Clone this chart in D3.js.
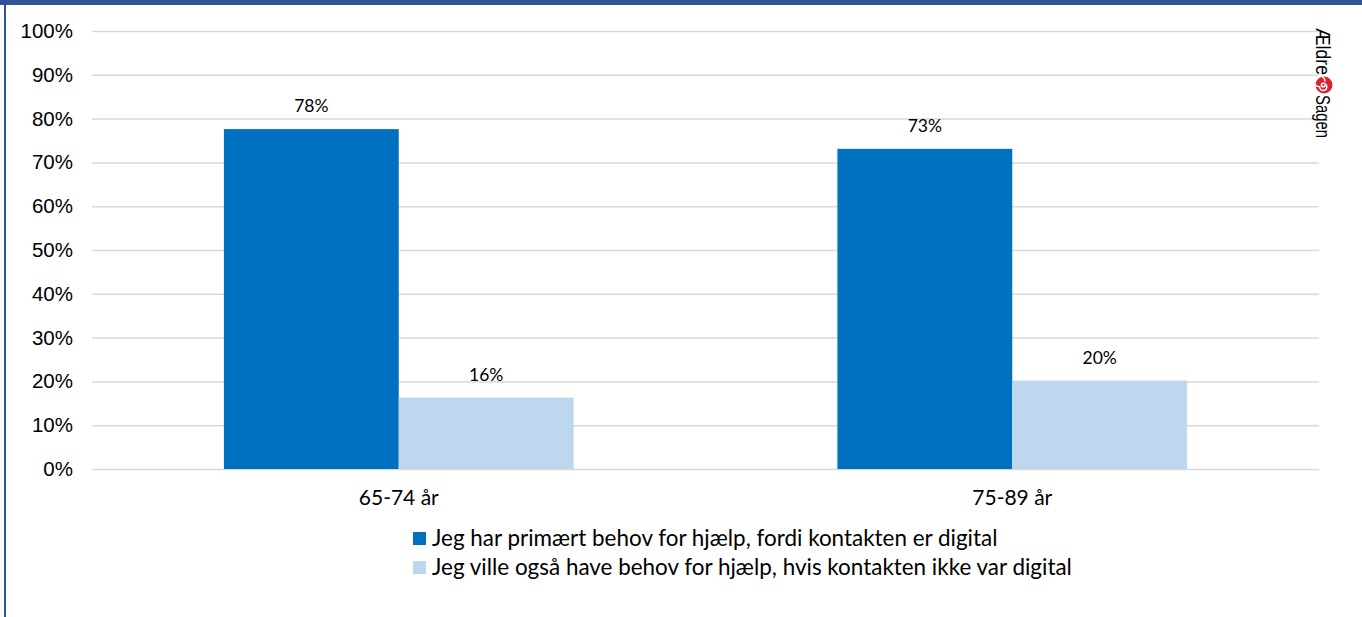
<!DOCTYPE html>
<html><head><meta charset="utf-8">
<script src="https://cdn.jsdelivr.net/npm/d3@7"></script>
<style>html,body{margin:0;padding:0;background:#fff;}svg{display:block;}</style>
</head><body>
<svg id="c" width="1362" height="617"></svg>
<script>
const categories = ["65-74 år", "75-89 år"];
const seriesNames = ["Jeg har primært behov for hjælp, fordi kontakten er digital",
                     "Jeg ville også have behov for hjælp, hvis kontakten ikke var digital"];
const seriesPrimary = [77.6, 73.1];
const seriesAlso = [16.3, 20.2];
const dataLabels = [["78%", "73%"], ["16%", "20%"]];
const tickValues = [0,10,20,30,40,50,60,70,80,90,100];
const colors = ["#0070C0", "#BDD7EE"];

(function(){
const svg = d3.select("#c");
const W = 1362, H = 617;
const mLeft = 92, mRight = 1319, mTop = 31, mBottom = 469;

// header bar & left frame
svg.append("rect").attr("x",0).attr("y",0).attr("width",W).attr("height",5).attr("fill","#2F5597");
svg.append("rect").attr("x",4).attr("y",0).attr("width",2).attr("height",H).attr("fill","#2F5597");

const y = d3.scaleLinear().domain([0,100]).range([mBottom, mTop]);
const x0 = d3.scaleBand().domain(categories).range([mLeft, mRight]).paddingInner(0.43).paddingOuter(0.215);
const x1 = d3.scaleBand().domain([0,1]).range([0, x0.bandwidth()]);

// gridlines
const yAxis = d3.axisLeft(y).tickValues(tickValues).tickFormat(d => d + "%").tickSize(-(mRight-mLeft)).tickPadding(19);
const ga = svg.append("g").attr("transform", `translate(${mLeft},0)`).call(yAxis);
ga.select(".domain").remove();
ga.selectAll(".tick line").attr("stroke","#d9d9d9").attr("stroke-width",1.5);
ga.selectAll(".tick text").attr("font-family","Liberation Sans, Arial, sans-serif").attr("font-size",20.5).attr("fill","#000");

const series = [seriesPrimary, seriesAlso];
series.forEach((vals, si) => {
  const g = svg.append("g");
  g.selectAll("rect").data(vals).join("rect")
    .attr("x",(d,i)=>x0(categories[i]) + x1(si))
    .attr("y",d=>y(d))
    .attr("width",x1.bandwidth())
    .attr("height",d=>y(0)-y(d))
    .attr("fill",colors[si]);
  g.selectAll("text").data(vals).join("text")
    .attr("x",(d,i)=>x0(categories[i]) + x1(si) + x1.bandwidth()/2)
    .attr("y",d=>y(d)-17)
    .attr("text-anchor","middle")
    .attr("font-family","Lato, Open Sans, sans-serif")
    .attr("font-size",17.5)
    .attr("fill","#000")
    .text((d,i)=>dataLabels[si][i]);
});

// category labels
const xAxis = d3.axisBottom(x0).tickSize(0).tickPadding(21);
const gx = svg.append("g").attr("transform",`translate(0,${mBottom})`).call(xAxis);
gx.select(".domain").remove();
gx.selectAll(".tick text").attr("font-family","Lato, Open Sans, sans-serif").attr("font-size",21).attr("fill","#000");

// legend
const lg = svg.append("g");
seriesNames.forEach((n,i)=>{
  const yy = 539 + i*29;
  lg.append("rect").attr("x",413).attr("y",yy-7).attr("width",13).attr("height",13).attr("fill",colors[i]);
  lg.append("text").attr("x",432).attr("y",yy+7).attr("font-family","Lato, Open Sans, sans-serif")
    .attr("font-size",20).attr("fill","#000").text(n).attr("class","lt");
});
const t0 = lg.select(".lt").node();
const w0 = t0.getComputedTextLength();
const fs = 20 * 566 / w0;
lg.selectAll(".lt").attr("font-size", fs);

// logo (rotated, reading top to bottom)
const logo = svg.append("g").attr("transform","translate(1316,28) rotate(90)");
logo.append("text").attr("x",0).attr("y",0).attr("font-family","Liberation Sans, sans-serif")
  .attr("font-size",21).attr("fill","#000").attr("textLength",47).attr("lengthAdjust","spacingAndGlyphs").text("Ældre");
logo.append("circle").attr("cx",57).attr("cy",-8).attr("r",8.5).attr("fill","#D9232D");
logo.append("path").attr("d","M57,-9 a1.8,1.8 0 1,1 -1.8,1.8 a3.6,3.6 0 1,1 3.6,3.6 a5.4,5.4 0 1,1 -5.4,-5.4")
  .attr("fill","none").attr("stroke","#fff").attr("stroke-width",1.5);
logo.append("text").attr("x",67).attr("y",0).attr("font-family","Liberation Sans, sans-serif")
  .attr("font-size",21).attr("fill","#000").attr("textLength",43).attr("lengthAdjust","spacingAndGlyphs").text("Sagen");
})();
</script>
</body></html>
